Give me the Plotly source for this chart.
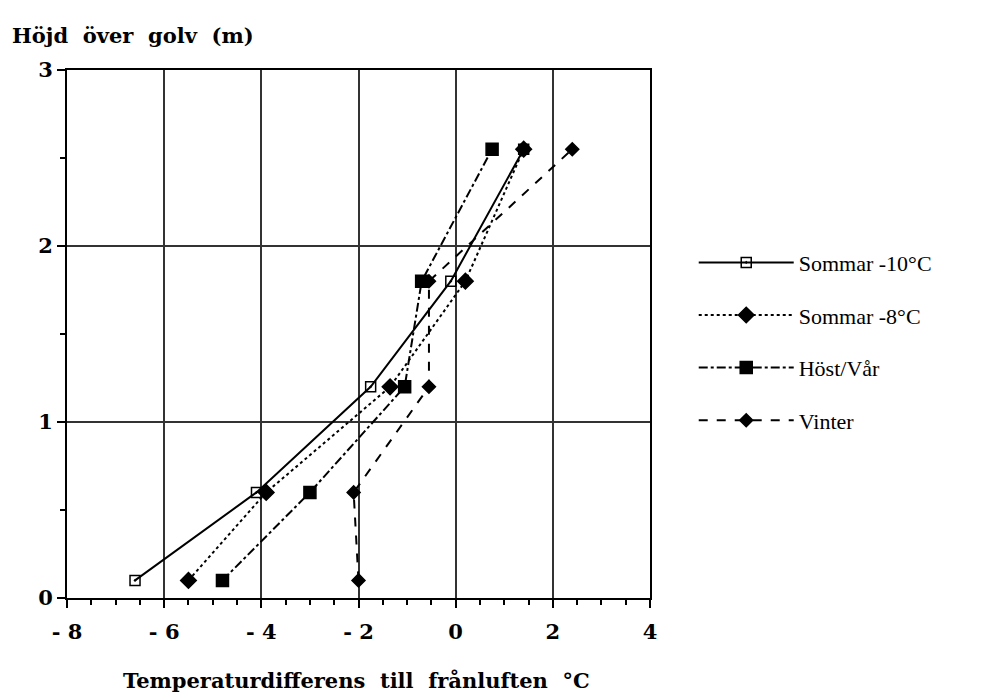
import plotly.graph_objects as go

heights = [0.1, 0.6, 1.2, 1.8, 2.55]
sommar10 = [-6.6, -4.1, -1.75, -0.1, 1.4]
sommar8 = [-5.5, -3.9, -1.35, 0.2, 1.4]
host_var = [-4.8, -3.0, -1.05, -0.7, 0.75]
vinter = [-2.0, -2.1, -0.55, -0.55, 2.4]

series_names = ["Sommar -10°C", "Sommar -8°C", "Höst/Vår", "Vinter"]
x_ticks = [-8, -6, -4, -2, 0, 2, 4]
x_tick_text = ["- 8", "- 6", "- 4", "- 2", "0", "2", "4"]
y_ticks = [0, 1, 2, 3]

styles = [
    dict(dash="solid", symbol="square-open-dot", size=10),
    dict(dash="dot", symbol="diamond", size=12),
    dict(dash="dashdot", symbol="square", size=12),
    dict(dash="dash", symbol="diamond", size=10),
]

fig = go.Figure()
for name, xs, st in zip(series_names, [sommar10, sommar8, host_var, vinter], styles):
    fig.add_trace(go.Scatter(
        x=xs, y=heights, name=name, mode="lines+markers", legendgroup=name,
        line=dict(color="black", width=2, dash=st["dash"]),
        marker=dict(symbol=st["symbol"], size=st["size"], color="black",
                    line=dict(color="black", width=1.5)),
    ))

serif = "Liberation Serif, Times New Roman, serif"
slab = "DejaVu Serif, serif"
fig.update_layout(
    width=990, height=697,
    margin=dict(l=67, r=340, t=70, b=99),
    paper_bgcolor="white", plot_bgcolor="white",
    showlegend=True,
    legend=dict(x=1.075, y=0.675, xanchor="left", yanchor="top",
                font=dict(family=serif, size=22, color="black"),
                itemwidth=95,
                tracegroupgap=21, bgcolor="rgba(0,0,0,0)"),
    font=dict(family=serif, color="black"),
)
fig.update_xaxes(
    range=[-8, 4], tickvals=x_ticks, ticktext=x_tick_text,
    tickfont=dict(family=slab, size=21, color="black", weight="bold"),
    ticks="outside", ticklen=8, tickwidth=2, tickcolor="black", ticklabelstandoff=6,
    minor=dict(dtick=0.5, ticks="outside", ticklen=5, tickwidth=1.5, tickcolor="black", showgrid=False),
    showline=True, linecolor="black", linewidth=2, mirror=True,
    showgrid=True, gridcolor="#333", gridwidth=1.5, zeroline=False,
)
fig.update_yaxes(
    range=[0, 3], tickvals=y_ticks,
    tickfont=dict(family=slab, size=21, color="black", weight="bold"),
    ticks="outside", ticklen=8, tickwidth=2, tickcolor="black",
    minor=dict(dtick=0.5, ticks="outside", ticklen=5, tickwidth=1.5, tickcolor="black", showgrid=False),
    showline=True, linecolor="black", linewidth=2, mirror=True,
    showgrid=True, gridcolor="#333", gridwidth=1.5, zeroline=False,
)
fig.add_annotation(text="<b>Höjd&nbsp; över&nbsp; golv&nbsp; (m)</b>", xref="paper", yref="paper",
                   x=-0.097, y=1.066, xanchor="left", yanchor="middle", showarrow=False,
                   font=dict(family=slab, size=21, color="black"))
fig.add_annotation(text="<b>Temperaturdifferens&nbsp; till&nbsp; frånluften&nbsp; °C</b>", xref="paper", yref="paper",
                   x=0.497, y=-0.157, xanchor="center", yanchor="middle", showarrow=False,
                   font=dict(family=slab, size=21, color="black"))
fig.write_html("out.html")
